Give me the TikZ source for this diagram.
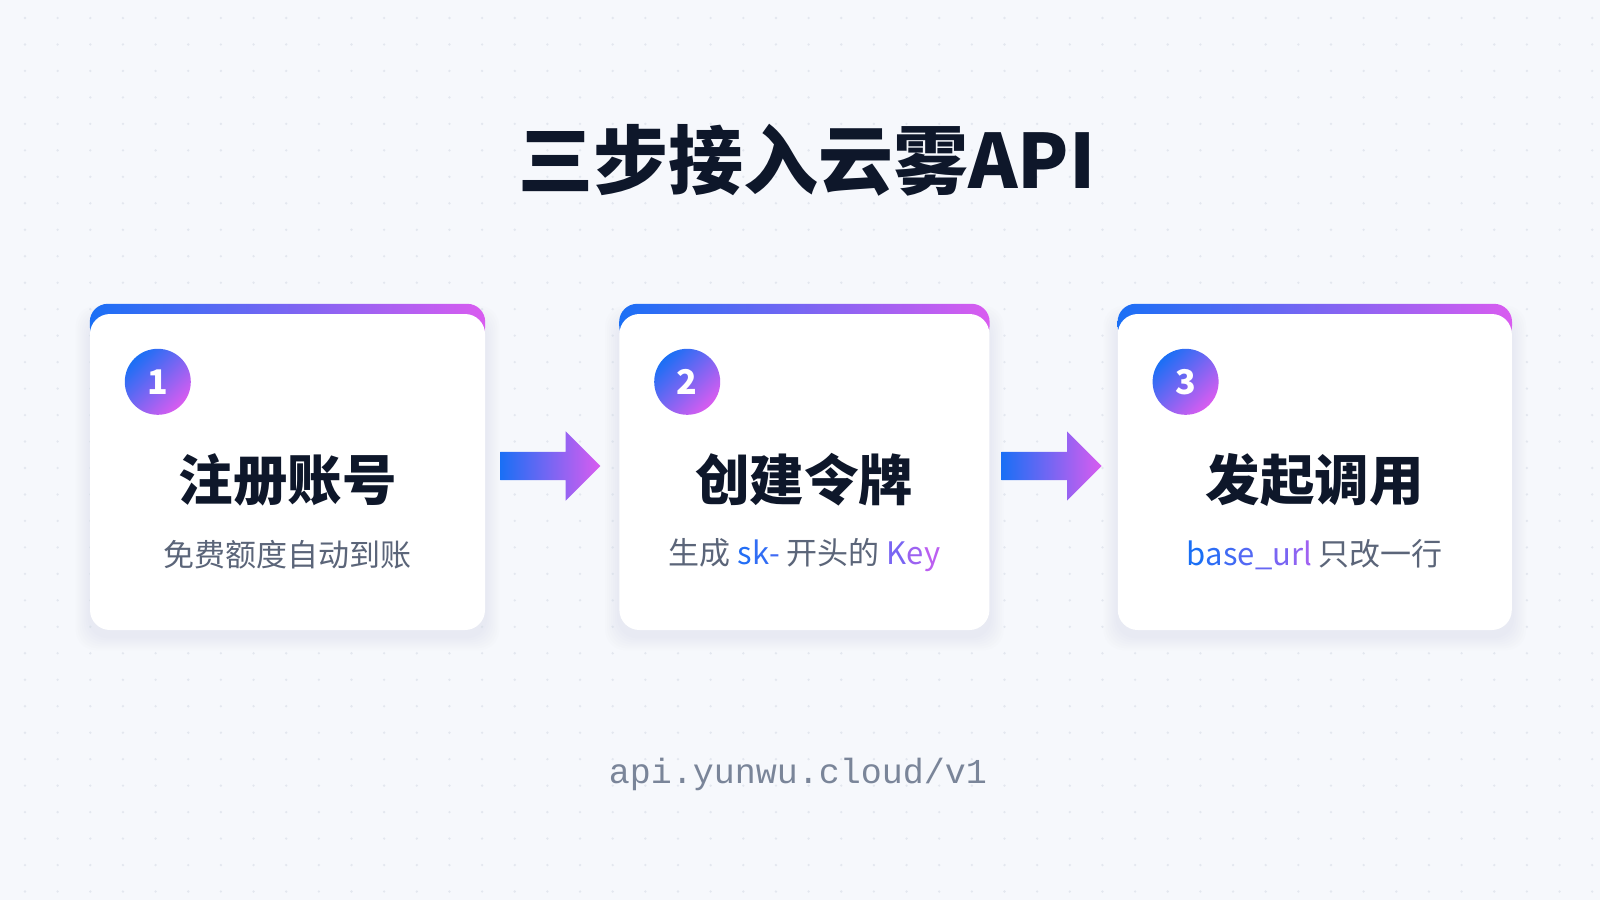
\documentclass[tikz,border=0pt]{standalone}
\usepackage{fontspec}
\usepackage{tikz}
\usetikzlibrary{positioning, calc, backgrounds, shapes.arrows}

\newfontfamily\cjk{Noto Sans CJK SC}
\setmonofont{Liberation Mono}

\definecolor{pagebg}{HTML}{F6F8FC}
\definecolor{gridgray}{HTML}{E3E7EF}
\definecolor{shadowgray}{HTML}{C9D1E0}
\definecolor{brandblue}{HTML}{1A6FF5}
\definecolor{brandpink}{HTML}{D95CF0}
\definecolor{titleink}{HTML}{0E172A}
\definecolor{noteink}{HTML}{5B6579}
\definecolor{footink}{HTML}{7A8599}

% one letter of a colour run from blue to pink
\newcommand\gch[2]{\textcolor{brandpink!#1!brandblue}{#2}}

\begin{document}
\begin{tikzpicture}[x=1pt,y=-1pt,
  card/.style={rectangle,rounded corners=20pt,fill=white,minimum height=316pt,inner sep=0pt},
  stepdot/.style={circle,minimum size=66pt,inner sep=0pt,top color=brandblue,bottom color=brandpink,
    shading angle=45,text=white,font=\cjk\bfseries\fontsize{34}{34}\selectfont},
  stagetitle/.style={text=titleink,font=\cjk\bfseries\fontsize{54.5}{58}\selectfont},
  stagenote/.style={text=noteink,font=\cjk\fontsize{31}{34}\selectfont},
  flowarrow/.style={single arrow,single arrow head extend=20.5pt,minimum height=100pt,minimum width=0pt,
    inner xsep=0pt,inner ysep=14pt,left color=brandblue,right color=brandpink}]

    \begin{scope}[on background layer]
      \fill[pagebg] (0,0) rectangle (1600,900);
      \foreach \i in {0,...,48}
        \foreach \j in {0,...,33}
          \fill[gridgray] (25+32.65*\i, 18+26.47*\j) circle (1.3pt);
    \end{scope}
    \useasboundingbox (0,0) rectangle (1600,900);

    \node[text=titleink, font=\cjk\bfseries\fontsize{75}{82}\selectfont] (head) at (807,160) {三步接入云雾API};

    % the three cards
    \node[card, minimum width=395pt] (c1) at (287.5,472) {};
    \node[card, minimum width=370pt, right=134pt of c1] (c2) {};
    \node[card, minimum width=394pt, right=128pt of c2] (c3) {};

    \begin{scope}[on background layer]
      \foreach \c in {c1,c2,c3} {
        \foreach \k in {2,4,...,14}
          \fill[shadowgray, opacity=0.04, rounded corners=20pt]
            ([xshift=-\k pt, yshift=\k pt-6pt]\c.north west) rectangle ([xshift=\k pt, yshift=-\k pt-6pt]\c.south east);
        \shade[left color=brandblue, right color=brandpink, rounded corners=18pt]
          ([yshift=10pt]\c.north west) rectangle ([yshift=-30pt]\c.north east);
      }
    \end{scope}

    \foreach \c/\n in {c1/1,c2/2,c3/3}
      \node[stepdot] (b\n) at ([xshift=68pt, yshift=-68pt]\c.north west) {\n};

    \node[stagetitle] (t1) at ([yshift=-8pt]c1.center) {注册账号};
    \node[stagetitle] (t2) at ([yshift=-8pt]c2.center) {创建令牌};
    \node[stagetitle] (t3) at ([yshift=-8pt]c3.center) {发起调用};

    \node[stagenote] (s1) at ([yshift=-83pt]c1.center) {免费额度自动到账};
    \node[stagenote] (s2) at ([yshift=-83pt]c2.center)
      {生成 \gch{5}{s}\gch{12}{k}\gch{20}{-} 开头的 \gch{50}{K}\gch{68}{e}\gch{85}{y}};
    \node[stagenote] (s3) at ([yshift=-83pt]c3.center)
      {\gch{0}{b}\gch{10}{a}\gch{20}{s}\gch{30}{e}\gch{40}{\_}\gch{50}{u}\gch{60}{r}\gch{70}{l} 只改一行};

    % arrows between the cards
    \node[flowarrow] (a1) at ($(c1.east)!0.5!(c2.west)+(-9,-6)$) {};
    \node[flowarrow] (a2) at ($(c2.east)!0.5!(c3.west)+(-9,-6)$) {};

    \node[text=footink, font=\ttfamily\fontsize{35}{40}\selectfont] (url) at (798,774) {api.yunwu.cloud/v1};

\end{tikzpicture}
\end{document}
